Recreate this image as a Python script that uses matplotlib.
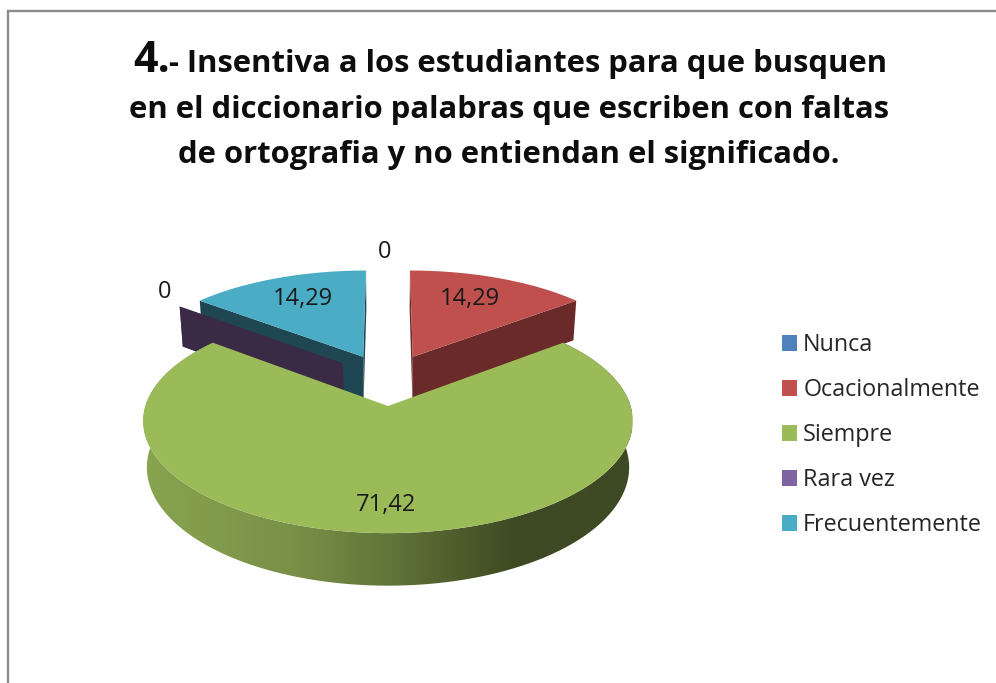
import numpy as np
import matplotlib
matplotlib.use("Agg")
import matplotlib.pyplot as plt
from matplotlib.colors import LinearSegmentedColormap
from matplotlib.patches import Patch, Polygon

categories = ["Nunca", "Ocacionalmente", "Siempre", "Rara vez", "Frecuentemente"]
values = [0, 14.29, 71.42, 0, 14.29]
value_labels = ["0", "14,29", "71,42", "0", "14,29"]
title_lines = ["- Insentiva a los estudiantes para que busquen",
               "en el diccionario palabras que escriben con faltas",
               "de ortografia y no entiendan el significado."]

top_colors = ["#4f81bd", "#c0504d", "#9bbb59", "#8064a2", "#4bacc6"]
wall_colors = ["#2a4563", "#6b2a2a", "#556b2f", "#3a2a45", "#1f4653"]

# projection of the exploded, tilted pie (pixel space)
CX, CY, R, K, P, H, EXPL, BOTTOM = 388, 379.4, 234.7, 103, 0.13, 44, 0.25, 0.985


def project(u, v, bottom=False):
    u, v = np.asarray(u, float), np.asarray(v, float)
    s = 1 / (1 + P * v)
    x, y = CX + R * u * s, CY - K * v * s
    if bottom:
        x, y = CX + (x - CX) * BOTTOM, y + H * s
    return np.column_stack([x, y])


fig = plt.figure(figsize=(9.96, 6.83), dpi=100, facecolor="white")
ax = fig.add_axes([0, 0, 1, 1])
ax.set_xlim(0, 996)
ax.set_ylim(683, 0)
ax.axis("off")

# frame
ax.plot([7.5, 7.5, 996], [683, 10.5, 10.5], color="#8c8c8c", lw=1.7, solid_joinstyle="miter")

edges = np.radians(np.concatenate([[0], np.cumsum(values)]) / np.sum(values) * 360)

for i in [4, 3, 1, 2]:
    a0, a1 = edges[i], edges[i + 1]
    mid = (a0 + a1) / 2
    cu, cv = EXPL * np.sin(mid), EXPL * np.cos(mid)
    ang = np.linspace(a0, a1, 240)
    au, av = cu + np.sin(ang), cv + np.cos(ang)
    if i == 2:
        # outer rim with left-to-right shading
        rim = np.vstack([project(au, av), project(au, av, True)[::-1]])
        cmap = LinearSegmentedColormap.from_list("rim", [
            (0.0, "#88a44f"), (0.30, "#7a9148"), (0.50, "#62763a"),
            (0.63, "#505f2d"), (0.76, "#3f4a23"), (1.0, "#3e4a23")])
        im = ax.imshow(np.linspace(0, 1, 512)[None, :], cmap=cmap, aspect="auto",
                       extent=(143, 632, 600, 330), zorder=2)
        ax.set_xlim(0, 996)
        ax.set_ylim(683, 0)
        clip = Polygon(rim, closed=True, transform=ax.transData, fc="none", ec="none")
        ax.add_patch(clip)
        im.set_clip_path(clip)
    else:
        for a in (a0, a1):
            wu, wv = np.array([cu, cu + np.sin(a)]), np.array([cv, cv + np.cos(a)])
            wall = np.vstack([project(wu, wv), project(wu, wv, True)[::-1]])
            ax.fill(wall[:, 0], wall[:, 1], color=wall_colors[i], lw=0, zorder=2)
    top = project(np.r_[cu, au], np.r_[cv, av])
    ax.fill(top[:, 0], top[:, 1], color=top_colors[i], lw=0, zorder=2)

# data labels
label_font = dict(family="Open Sans", fontsize=17, color="#1a1a1a", ha="center", va="center", zorder=5)
label_pos = [(385, 252), (470, 299), (386, 505), (165, 292), (303, 299)]
for txt, (lx, ly) in zip(value_labels, label_pos):
    ax.text(lx, ly, txt, **label_font)

# title
title_font = dict(family="Open Sans", fontweight="bold", color="#0d0d0d", va="baseline")
ax.text(133, 72, "4.", fontsize=31, **title_font)
ax.text(169, 72, title_lines[0], fontsize=22.3, **title_font)
ax.text(509, 118, title_lines[1], fontsize=22.3, ha="center", **title_font)
ax.text(509, 163, title_lines[2], fontsize=22.3, ha="center", **title_font)

# legend
handles = [Patch(facecolor=c, edgecolor="none") for c in top_colors]
ax.legend(handles, categories, loc="center left", bbox_to_anchor=(782 / 996, 1 - 435 / 683),
          frameon=False, prop={"family": "Open Sans", "size": 16.8},
          handlelength=0.65, handleheight=0.65, handletextpad=0.26,
          labelspacing=0.9, labelcolor="#262626", borderpad=0, borderaxespad=0)

fig.savefig("out.png", dpi=100, facecolor="white")
